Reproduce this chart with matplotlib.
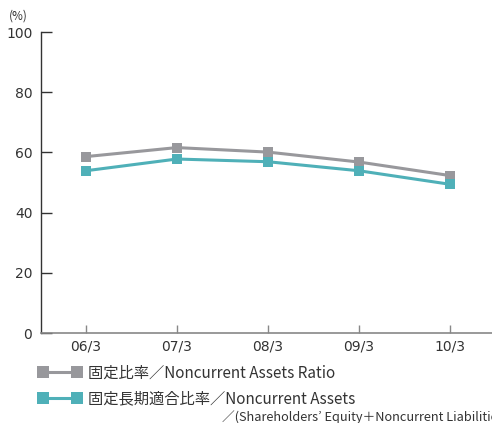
import matplotlib
matplotlib.use('Agg')
import matplotlib.pyplot as plt
import numpy as np

plt.rcParams['font.family'] = ['Noto Sans CJK JP', 'DejaVu Sans']

periods = ['06/3', '07/3', '08/3', '09/3', '10/3']
fixed_ratio = [58.6, 61.6, 60.1, 56.8, 52.3]
fixed_long_term_ratio = [53.9, 57.8, 56.9, 53.9, 49.4]
yticks = [0, 20, 40, 60, 80, 100]

label1 = '固定比率／Noncurrent Assets Ratio'
label2 = '固定長期適合比率／Noncurrent Assets'
label2b = '／(Shareholders\u2019 Equity＋Noncurrent Liabilities)'

GRAY = '#98989c'
TEAL = '#4fb0b8'
TXT = '#333333'

fig = plt.figure(figsize=(4.92, 4.23), dpi=100)
ax = fig.add_axes([40.7/492, 1-333/423, 1-40.7/492, (333-32)/423])

x = np.arange(len(periods))
l1, = ax.plot(x, fixed_ratio, color=GRAY, lw=2.2, marker='s', ms=7,
              markeredgewidth=0, label=label1, zorder=3)
l2, = ax.plot(x, fixed_long_term_ratio, color=TEAL, lw=2.2, marker='s', ms=7,
              markeredgewidth=0, label=label2, zorder=3)

ax.set_xlim(-0.495, 4.46)
ax.set_ylim(0, 100)
ax.set_xticks(x)
ax.set_xticklabels(periods)
ax.set_yticks(yticks)

for s in ['top', 'right']:
    ax.spines[s].set_visible(False)
ax.spines['left'].set_color('#333333')
ax.spines['left'].set_linewidth(1.0)
ax.spines['bottom'].set_color('#888888')
ax.spines['bottom'].set_linewidth(1.2)

ax.tick_params(axis='y', direction='in', length=8, width=1.0, color='#333333',
               labelsize=10, labelcolor=TXT, pad=6)
ax.tick_params(axis='x', direction='in', length=6, width=1.0, color='#888888',
               labelsize=10, labelcolor=TXT, pad=5)
for t in ax.get_yticklabels() + ax.get_xticklabels():
    t.set_family('DejaVu Sans')

fig.text(18/492, 1-16/423, '(%)', fontsize=8.5, color=TXT, ha='center', va='center')

leg = ax.legend(handles=[l1, l2], loc='upper left', bbox_to_anchor=(-0.005, -0.105),
                frameon=False, numpoints=2, handlelength=2.8, handletextpad=0.45,
                labelspacing=0.55, fontsize=11, borderaxespad=0, borderpad=0)
for t in leg.get_texts():
    t.set_color(TXT)
for h in leg.legend_handles:
    h.set_markersize(8.5)

fig.text(222/492, 1-417/423, label2b, fontsize=9.2, color=TXT, ha='left', va='center')

fig.savefig('out.png', dpi=100)
